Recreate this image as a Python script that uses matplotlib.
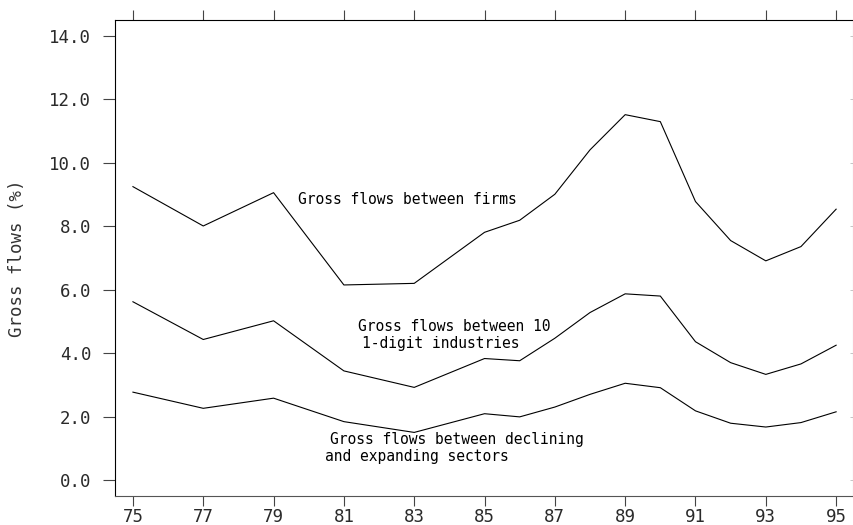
import matplotlib
matplotlib.use("Agg")
import matplotlib.pyplot as plt

plt.rcParams['font.family'] = ['DejaVu Sans Mono']

years = [75, 77, 79, 81, 83, 85, 86, 87, 88, 89, 90, 91, 92, 93, 94, 95]
firms = [9.25, 8.01, 9.06, 6.15, 6.20, 7.81, 8.19, 9.01, 10.41, 11.52, 11.30,
         8.78, 7.55, 6.91, 7.36, 8.54]
industries = [5.62, 4.43, 5.02, 3.44, 2.92, 3.83, 3.76, 4.47, 5.28, 5.87, 5.80,
              4.36, 3.70, 3.33, 3.66, 4.25]
sectors = [2.77, 2.26, 2.58, 1.84, 1.50, 2.09, 1.99, 2.30, 2.70, 3.05, 2.91,
           2.18, 1.79, 1.67, 1.81, 2.15]

x_ticks = list(range(75, 96, 2))
y_ticks = [0, 2, 4, 6, 8, 10, 12, 14]

fig = plt.figure(figsize=(8.54, 5.25), dpi=100)
ax = fig.add_axes([115 / 854, 1 - 496 / 525, (853 - 115) / 854, (496 - 20) / 525])

for series in (firms, industries, sectors):
    ax.plot(years, series, color='black', lw=0.8)

ax.set_xlim(74.49, 95.48)
ax.set_ylim(-0.505, 14.505)

ax.set_xticks(x_ticks)
ax.set_xticklabels([str(t) for t in x_ticks])
ax.set_yticks(y_ticks)
ax.set_yticklabels([f"{t:.1f}" for t in y_ticks])

ax.tick_params(axis='x', which='major', direction='out', length=7.5, width=0.8,
               color='#444', labelsize=12.5, labelcolor='#2a2a2a', pad=1.5,
               top=True, labeltop=False)
ax.tick_params(axis='y', which='major', direction='out', length=9, width=0.8,
               color='#444', labelsize=12.5, labelcolor='#2a2a2a', pad=8)
# top ticks in black
for tick in ax.xaxis.get_major_ticks():
    tick.tick2line.set_color('black')

# faint inward ticks on the right edge
ax_r = ax.twinx()
ax_r.set_ylim(ax.get_ylim())
ax_r.set_yticks(y_ticks)
ax_r.set_yticklabels([])
ax_r.tick_params(axis='y', direction='in', length=2, width=0.6, color='#bbb')
for s in ax_r.spines.values():
    s.set_visible(False)

ax.spines['left'].set_color('black')
ax.spines['top'].set_color('black')
ax.spines['bottom'].set_color('#555')
ax.spines['right'].set_color('#bbb')
for s in ax.spines.values():
    s.set_linewidth(0.8)

ax.set_ylabel('Gross flows (%)', fontsize=12.5, color='#333', labelpad=17)

txt = dict(fontsize=10.5, color='black', va='center', ha='left')
ax.text(79.7, 8.84, 'Gross flows between firms', **txt)
ax.text(81.41, 4.83, 'Gross flows between 10', **txt)
ax.text(81.51, 4.30, '1-digit industries', **txt)
ax.text(80.6, 1.28, 'Gross flows between declining', **txt)
ax.text(80.46, 0.73, 'and expanding sectors', **txt)

fig.savefig('out.png', dpi=100)
